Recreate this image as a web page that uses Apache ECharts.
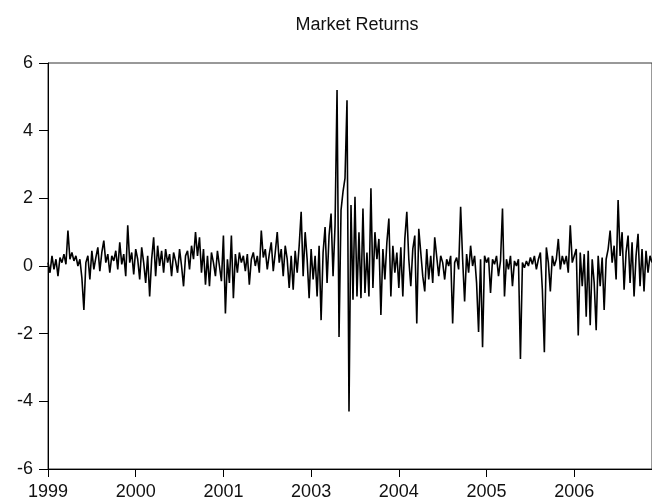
<!DOCTYPE html>
<html>
<head>
<meta charset="utf-8">
<script src="https://cdn.jsdelivr.net/npm/echarts@6/dist/echarts.min.js"></script>
<style>
  html, body { margin: 0; padding: 0; background: #fff; }
  #main { width: 652px; height: 502px; }
</style>
</head>
<body>
<div id="main"></div>
<script>
var chartDom = document.getElementById('main');
var myChart = echarts.init(chartDom);
var option;

// year labels shown under the axis (2002 is skipped in the original)
var yearLabels = ['1999', '2000', '2001', '2003', '2004', '2005', '2006'];
var pointsPerYear = 44;

// returns, left to right
var returns1999 = [
  0.1, -0.2, 0.3, -0.1, 0.2, -0.3, 0.25, 0.1, 0.35, 0.05, 1.05, 0.2, 0.4, 0.15, 0.3, 0.0, 0.2, -0.35, -1.3, 0.1,
  0.3, -0.4, 0.45, -0.1, 0.25, 0.55, -0.15, 0.4, 0.75, 0.1, 0.35, -0.2, 0.3, 0.15, 0.45, -0.1, 0.7, 0.05, 0.35, -0.3,
  1.2, 0.1, 0.4, -0.25
];
var returns2000 = [
  0.5, 0.2, -0.4, 0.55, 0.1, -0.5, 0.3, -0.9, 0.2, 0.85, -0.3, 0.6, 0.0, 0.45, -0.2, 0.5,
  0.1, 0.35, -0.3, 0.4, 0.15, -0.2, 0.5, 0.0, -0.6, 0.3, 0.45, -0.1, 0.6, 0.2, 1.0, 0.3, 0.85, -0.2, 0.5, -0.55,
  0.3, -0.6, 0.4, 0.1, -0.3, 0.45, 0.0, -0.45
];
var returns2001 = [
  0.9, -1.4, 0.2, -0.5, 0.9, -0.95, 0.35, -0.2, 0.4, 0.1, 0.3, -0.15,
  0.35, -0.55, 0.2, 0.4, 0.0, 0.3, -0.2, 1.05, 0.25, 0.5, -0.1, 0.35, 0.7, -0.15, 0.4, 1.0, 0.1, 0.5, -0.3, 0.6,
  0.2, -0.65, 0.3, -0.7, 0.45, -0.2, 0.6, 1.6, -0.3, 1.0, 0.2, -0.95
];
var returns2003 = [
  0.5, -0.4, 0.3, -0.9, 0.6, -1.6, 0.4, 1.15,
  -0.5, 0.9, 1.55, -0.3, 1.2, 5.2, -2.1, 1.65, 2.2, 2.6, 4.9, -4.3, 1.8, -1.0, 2.05, -0.9, 1.0, -0.95, 1.7, -0.8,
  0.4, -0.9, 2.3, -0.65, 1.0, 0.2, 0.8, -1.45, 0.5, -0.4, 0.7, 1.4, -0.9, 0.6, -0.2, 0.4
];
var returns2004 = [
  -0.65, 0.55, -0.9, 0.8,
  1.6, 0.2, -0.6, 0.5, 0.9, -1.7, 1.1, 1.05, -0.3, -0.75, 0.5, -0.4, 0.3, -0.5, 0.85, 0.9, -0.3, 0.3, 0.1, -0.4,
  0.2, 0.0, 0.3, -1.7, 0.1, 0.25, -0.1, 1.75, 0.2, -1.05, 0.35, -0.2, 0.6, 0.0, 0.3, -0.5, -1.95, 0.2, -2.4, 0.3
];
var returns2005 = [
  0.1, 0.25, -0.8, 0.2, 0.05, 0.3, -0.3, 0.15, 1.7, -0.9, 0.2, -0.1, 0.3, -0.6, 0.15, 0.0, 0.2, -2.75, 0.1, -0.05,
  0.15, 0.0, 0.25, 0.05, 0.3, -0.1, 0.2, 0.4, -0.7, -2.55, 0.55, 0.1, -0.75, 0.3, 0.0, 0.2, 0.8, -0.1, 0.3, 0.05,
  0.3, -0.2, 1.2, 0.1
];
var returns2006 = [
  0.3, 0.5, -2.05, 0.4, -0.6, 0.35, -1.5, 0.45, -1.75, 0.2, -0.5, -1.9, 0.3, -0.6, 0.25, -1.3,
  0.2, 0.5, 1.05, 0.1, 0.6, -0.4, 1.95, 0.3, 1.0, -0.7, 0.4, 0.9, -0.5, 0.7, -0.9, 0.3, 0.95, -0.6, 0.5, -0.75,
  0.45, -0.2, 0.3, 0.1
];

var values = [].concat(returns1999, returns2000, returns2001, returns2003,
  returns2004, returns2005, returns2006);

var categories = values.map(function (v, i) {
  return i % pointsPerYear === 0 ? (yearLabels[i / pointsPerYear] || '') : '';
});

var font = 'Liberation Sans, Arial, sans-serif';

option = {
  backgroundColor: '#fff',
  animation: false,
  title: {
    text: 'Market Returns',
    left: 352,
    top: 11,
    textAlign: 'center',
    textStyle: {
      fontFamily: font,
      fontSize: 18,
      fontWeight: 'normal',
      color: '#111'
    }
  },
  grid: {
    left: 48,
    right: -2,
    top: 63,
    bottom: 33,
    show: true,
    borderColor: '#333',
    borderWidth: 1
  },
  xAxis: {
    type: 'category',
    data: categories,
    boundaryGap: false,
    axisLine: { onZero: false, lineStyle: { color: '#000', width: 1 } },
    axisTick: {
      interval: pointsPerYear - 1,
      length: 8,
      lineStyle: { color: '#000' }
    },
    axisLabel: {
      interval: pointsPerYear - 1,
      margin: 14,
      fontFamily: font,
      fontSize: 18,
      color: '#111'
    },
    splitLine: { show: false }
  },
  yAxis: {
    type: 'value',
    min: -6,
    max: 6,
    interval: 2,
    axisLine: { show: true, lineStyle: { color: '#000', width: 1 } },
    axisTick: { show: true, length: 9, lineStyle: { color: '#000' } },
    axisLabel: {
      margin: 15,
      fontFamily: font,
      fontSize: 18,
      color: '#111'
    },
    splitLine: { show: false }
  },
  series: [
    {
      type: 'line',
      data: values,
      showSymbol: false,
      symbol: 'none',
      lineStyle: { color: '#000', width: 1.6 }
    }
  ]
};

option && myChart.setOption(option);
</script>
</body>
</html>
